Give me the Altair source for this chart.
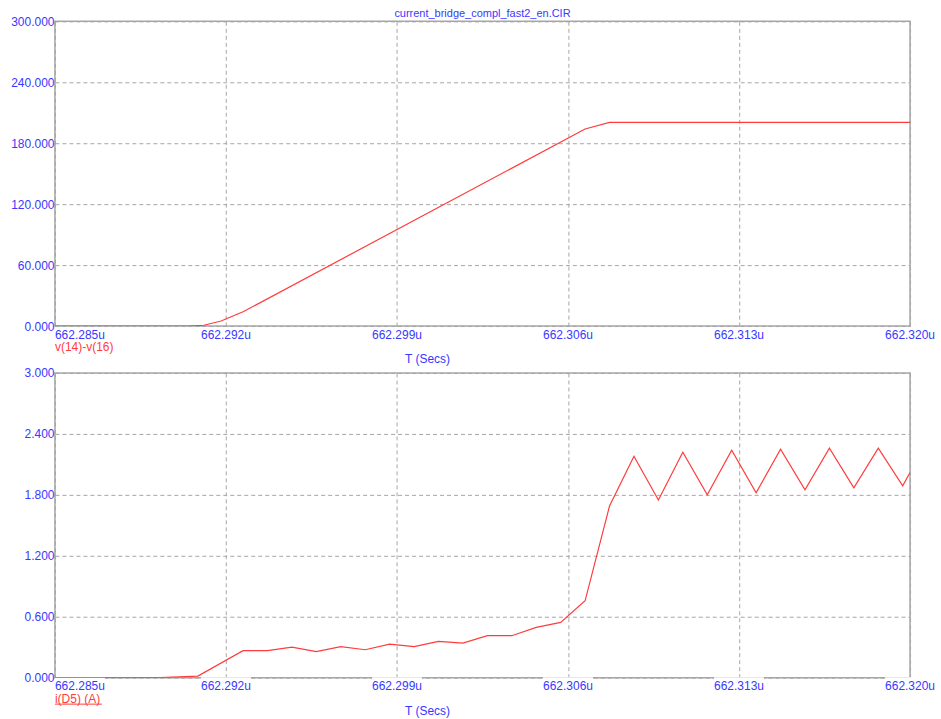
import altair as alt
import pandas as pd

# ---- data -------------------------------------------------------------
TITLE = "current_bridge_compl_fast2_en.CIR"
X_TITLE = "T (Secs)"

# time axis ticks (microseconds)
t_ticks = [662.285, 662.292, 662.299, 662.306, 662.313, 662.320]

# upper trace: v(14)-v(16)
v_name = "v(14)-v(16)"
v_ticks = [0, 60, 120, 180, 240, 300]
v_time = [662.2850, 662.2905, 662.2911, 662.2918, 662.2927, 662.3067, 662.3077, 662.3200]
v_vals = [0.0, 0.0, 0.8, 5.0, 14.0, 194.0, 200.5, 200.5]

# lower trace: i(D5) (A)
i_name = "i(D5) (A)"
i_ticks = [0, 0.6, 1.2, 1.8, 2.4, 3.0]
i_time = [662.2850, 662.2893, 662.29085, 662.2927, 662.2937, 662.2947, 662.2957,
          662.2967, 662.2977, 662.2987, 662.2997, 662.3007, 662.3017, 662.3027,
          662.3037, 662.3047, 662.3057, 662.3067, 662.3077, 662.3087, 662.3097,
          662.3107, 662.3117, 662.3127, 662.3137, 662.3147, 662.3157, 662.3167,
          662.3177, 662.3187, 662.3197, 662.3200]
i_vals = [0.0, 0.0, 0.015, 0.266, 0.266, 0.300, 0.256, 0.305, 0.275, 0.330,
          0.305, 0.357, 0.341, 0.413, 0.413, 0.495, 0.544, 0.757, 1.69, 2.18,
          1.75, 2.22, 1.80, 2.24, 1.82, 2.25, 1.85, 2.26, 1.87, 2.26, 1.89, 2.02]

# ---- style ------------------------------------------------------------
W, H = 856, 305
BLUE = "#3838ff"
RED = "#ff3c3c"
GRAY = "#a6a6a6"
FONT = "Liberation Sans"
BOX = "M-1,-0.34L1,-0.34L1,0.34L-1,0.34Z"

tick_df = pd.DataFrame({"t": t_ticks, "lab": [f"{t:.3f}u" for t in t_ticks]})
first = alt.datum.t < t_ticks[0] + 1e-6
rest = alt.datum.t > t_ticks[0] + 1e-6


def panel(time, vals, yticks, name, underline=False, label_boxes=False, title=None):
    x_enc = alt.X(
        "t:Q",
        scale=alt.Scale(domain=[t_ticks[0], t_ticks[-1]], nice=False, zero=False),
        axis=alt.Axis(values=t_ticks, grid=True, gridDash=[4, 3], gridColor=GRAY,
                      gridWidth=1, labels=False, ticks=False, domain=False, title=None),
    )
    y_enc = alt.Y(
        "v:Q",
        scale=alt.Scale(domain=[yticks[0], yticks[-1]], nice=False, zero=False),
        axis=alt.Axis(values=yticks, grid=True, gridDash=[4, 3], gridColor=GRAY,
                      gridWidth=1, ticks=False, domain=False, title=None,
                      labelExpr="format(datum.value, '.3f')", labelColor=BLUE,
                      labelFont=FONT, labelFontSize=12, labelPadding=1,
                      labelBaseline="middle"),
    )
    series = pd.DataFrame({"t": time, "v": vals})

    layers = []
    if label_boxes:
        # white boxes behind the time labels, cutting the frame line
        layers.append(
            alt.Chart(tick_df).transform_filter(rest).mark_point(
                shape=BOX, size=2500, filled=True, fill="white", opacity=1, strokeWidth=0,
            ).encode(x=x_enc, y=alt.value(H + 8))
        )
        layers.append(
            alt.Chart(tick_df).transform_filter(first).mark_point(
                shape=BOX, size=2500, filled=True, fill="white", opacity=1, strokeWidth=0,
                xOffset=25,
            ).encode(x=x_enc, y=alt.value(H + 8))
        )
    # time labels: first one starts at the left edge, others centred
    layers.append(
        alt.Chart(tick_df).transform_filter(rest)
        .mark_text(align="center", baseline="middle", font=FONT, fontSize=12, color=BLUE)
        .encode(x=x_enc, y=alt.value(H + 8.5), text="lab:N")
    )
    layers.append(
        alt.Chart(tick_df).transform_filter(first)
        .mark_text(align="left", baseline="middle", font=FONT, fontSize=12, color=BLUE)
        .encode(x=x_enc, y=alt.value(H + 8.5), text="lab:N")
    )
    # trace name under the plot
    layers.append(
        alt.Chart(pd.DataFrame({"s": [name]}))
        .mark_text(align="left", baseline="middle", font=FONT, fontSize=12, color=RED)
        .encode(x=alt.value(0), y=alt.value(H + 21), text="s:N")
    )
    if underline:
        layers.append(
            alt.Chart(pd.DataFrame({"s": [name]}))
            .mark_rule(color=RED, strokeWidth=1)
            .encode(x=alt.value(0), x2=alt.value(47), y=alt.value(H + 26.5))
        )
    # x axis caption
    layers.append(
        alt.Chart(pd.DataFrame({"s": [X_TITLE]}))
        .mark_text(align="center", baseline="middle", font=FONT, fontSize=12, color=BLUE)
        .encode(x=alt.value(373), y=alt.value(H + 33.5), text="s:N")
    )
    if title:
        layers.append(
            alt.Chart(pd.DataFrame({"s": [title]}))
            .mark_text(align="center", baseline="middle", font=FONT, fontSize=11, color=BLUE)
            .encode(x=alt.value(W / 2), y=alt.value(-7), text="s:N")
        )
    # the trace itself
    layers.append(
        alt.Chart(series).mark_line(color=RED, strokeWidth=1.2, clip=True)
        .encode(x=x_enc, y=y_enc)
    )
    return alt.layer(*layers).properties(width=W, height=H)


top = panel(v_time, v_vals, v_ticks, v_name, title=TITLE)
bottom = panel(i_time, i_vals, i_ticks, i_name, underline=True, label_boxes=True)

chart = (
    alt.vconcat(top, bottom, spacing=47, bounds="flush")
    .properties(padding={"left": 9, "top": 7, "right": 5, "bottom": 5}, background="white")
    .configure_view(stroke=GRAY, strokeWidth=1.5)
)

chart.save("out.html", embed_options={"renderer": "svg", "actions": False})
